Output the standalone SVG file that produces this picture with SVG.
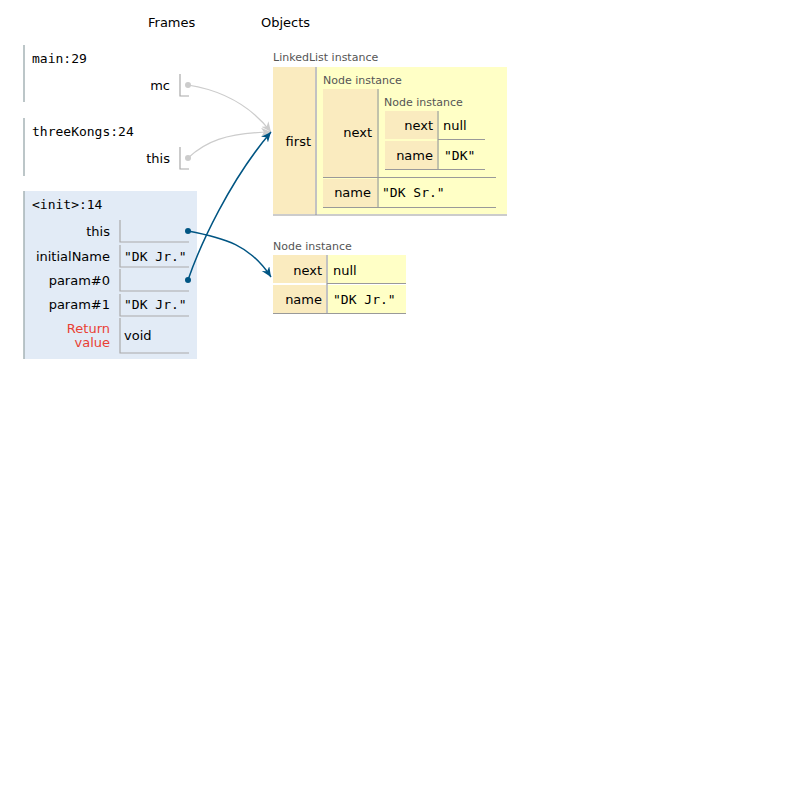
<svg xmlns="http://www.w3.org/2000/svg" width="800" height="800" viewBox="0 0 800 800">
<defs>
<style>
.s{font-family:"DejaVu Sans",Verdana,sans-serif;font-size:13px;fill:#000}
.m{font-family:"DejaVu Sans Mono","Liberation Mono",monospace;font-size:13px;fill:#000}
.t{font-family:"DejaVu Sans",Verdana,sans-serif;font-size:11px;fill:#555}
.r{text-anchor:end}
.key{fill:#faebbf}
.val{fill:#ffffc6}
.hl{stroke:#999;stroke-width:1.2;fill:none}
.fl{stroke:#aaa;stroke-width:1.2;fill:none}
.fb{stroke:#a6b3b6;stroke-width:1.5}
.ret{fill:#e93f34}
</style>
<marker id="ab" markerUnits="userSpaceOnUse" markerWidth="12" markerHeight="10" refX="10" refY="4.5" orient="auto"><path d="M0,0 L10,4.5 L0,9 L3,4.5 z" fill="#005583"/></marker>
<marker id="ag" markerUnits="userSpaceOnUse" markerWidth="12" markerHeight="10" refX="10" refY="4.5" orient="auto"><path d="M0,0 L10,4.5 L0,9 L3,4.5 z" fill="#ccc"/></marker>
</defs>
<rect width="800" height="800" fill="#fff"/>
<text class="s" x="148" y="27">Frames</text>
<text class="s" x="261" y="27">Objects</text>

<g id="frame-main">
<line class="fb" x1="24" y1="45" x2="24" y2="102"/>
<text class="m" x="32" y="63">main:29</text>
<text class="s r" x="170" y="90">mc</text>
<path class="fl" d="M180,74 V96 H189"/>
</g>

<g id="frame-threeKongs">
<line class="fb" x1="24" y1="118" x2="24" y2="176"/>
<text class="m" x="32" y="136">threeKongs:24</text>
<text class="s r" x="170" y="163">this</text>
<path class="fl" d="M180,147 V169 H189"/>
</g>

<g id="frame-init">
<rect x="24" y="191" width="173" height="168" fill="#e2ebf6"/>
<line class="fb" x1="24" y1="191" x2="24" y2="359"/>
<text class="m" x="32" y="209">&lt;init&gt;:14</text>
<text class="s r" x="110" y="236">this</text>
<path class="fl" d="M120,220 V242 H189"/>
<text class="s r" x="110" y="261">initialName</text>
<path class="fl" d="M120,245 V267 H189"/>
<text class="m" x="124" y="261">"DK Jr."</text>
<text class="s r" x="110" y="285">param#0</text>
<path class="fl" d="M120,269 V291 H189"/>
<text class="s r" x="110" y="309">param#1</text>
<path class="fl" d="M120,294 V316 H189"/>
<text class="m" x="124" y="309">"DK Jr."</text>
<text class="s r ret" x="110" y="333">Return</text>
<text class="s r ret" x="110" y="347">value</text>
<path class="fl" d="M120,318 V353 H189"/>
<text class="s" x="124" y="340">void</text>
</g>

<g id="linkedlist">
<text class="t" x="273" y="61">LinkedList instance</text>
<rect class="key" x="273" y="67" width="42" height="147"/>
<rect class="val" x="317" y="67" width="190" height="147"/>
<line class="hl" x1="316" y1="67" x2="316" y2="215"/>
<line class="hl" x1="273" y1="215" x2="507" y2="215"/>
<text class="s r" x="311" y="146">first</text>
<g id="node-dksr">
<text class="t" x="323" y="84">Node instance</text>
<rect class="key" x="323" y="89" width="54" height="88"/>
<rect class="key" x="323" y="179" width="54" height="28"/>
<line class="hl" x1="378" y1="89" x2="378" y2="207"/>
<line class="hl" x1="323" y1="177.5" x2="496" y2="177.5"/>
<line class="hl" x1="323" y1="207.5" x2="496" y2="207.5"/>
<text class="s r" x="372" y="137">next</text>
<text class="s r" x="371" y="197">name</text>
<text class="m" x="382" y="197">"DK Sr."</text>
<g id="node-dk">
<text class="t" x="384" y="106">Node instance</text>
<rect class="key" x="385" y="111" width="52" height="28"/>
<rect class="key" x="385" y="141" width="52" height="28"/>
<line class="hl" x1="438" y1="111" x2="438" y2="169"/>
<line class="hl" x1="438" y1="139.5" x2="485" y2="139.5"/>
<line class="hl" x1="385" y1="169.5" x2="485" y2="169.5"/>
<text class="s r" x="433" y="130">next</text>
<text class="s" x="443" y="130">null</text>
<text class="s r" x="433" y="160">name</text>
<text class="m" x="444" y="160">"DK"</text>
</g>
</g>
</g>

<g id="node-dkjr">
<text class="t" x="273" y="250">Node instance</text>
<rect class="key" x="273" y="255" width="53" height="28"/>
<rect class="key" x="273" y="285" width="53" height="28"/>
<rect class="val" x="328" y="255" width="78" height="28"/>
<rect class="val" x="328" y="285" width="78" height="28"/>
<line class="hl" x1="327" y1="255" x2="327" y2="313"/>
<line class="hl" x1="327" y1="283.5" x2="406" y2="283.5"/>
<line class="hl" x1="273" y1="313.5" x2="406" y2="313.5"/>
<text class="s r" x="322" y="275">next</text>
<text class="s" x="333" y="275">null</text>
<text class="s r" x="322" y="304">name</text>
<text class="m" x="333" y="304">"DK Jr."</text>
</g>

<g id="connectors">
<path d="M188,85 C220,90 250,105 271,132" stroke="#ccc" stroke-width="1.2" fill="none" marker-end="url(#ag)"/>
<path d="M188,158 C205,142 225,133 271,132" stroke="#ccc" stroke-width="1.2" fill="none" marker-end="url(#ag)"/>
<path d="M188,280 C200,245 230,180 271,132" stroke="#005583" stroke-width="1.5" fill="none" marker-end="url(#ab)"/>
<path d="M188,231 C225,238 250,245 271,277" stroke="#005583" stroke-width="1.5" fill="none" marker-end="url(#ab)"/>
<circle cx="188" cy="85" r="3" fill="#ccc"/>
<circle cx="188" cy="158" r="3" fill="#ccc"/>
<circle cx="188" cy="231" r="3" fill="#005583"/>
<circle cx="188" cy="280" r="3" fill="#005583"/>
</g>
</svg>
